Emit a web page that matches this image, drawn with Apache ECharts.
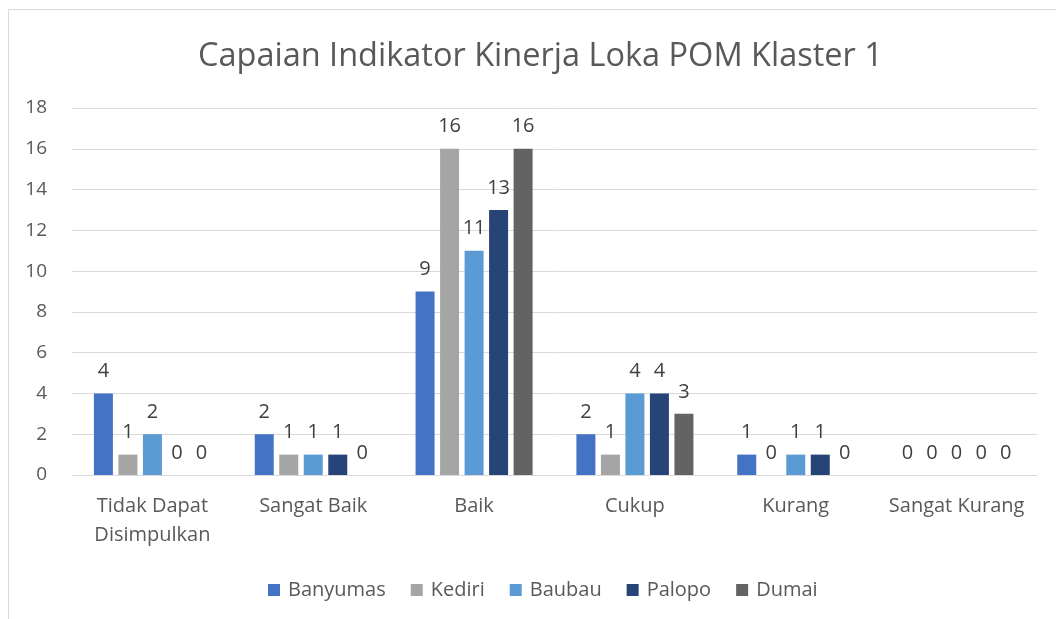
<!DOCTYPE html>
<html>
<head>
<meta charset="utf-8">
<script src="https://cdn.jsdelivr.net/npm/echarts@6/dist/echarts.min.js"></script>
<style>
html,body{margin:0;padding:0;background:#fff;}
#frame{position:absolute;left:8px;top:9px;width:1100px;height:700px;border:1px solid #D9D9D9;box-sizing:border-box;}
#main{position:absolute;left:0;top:0;width:1056px;height:619px;}
</style>
</head>
<body>
<div id="frame"></div>
<div id="main"></div>
<script>
const categories = ['Tidak Dapat\nDisimpulkan', 'Sangat Baik', 'Baik', 'Cukup', 'Kurang', 'Sangat Kurang'];
const seriesNames = ['Banyumas', 'Kediri', 'Baubau', 'Palopo', 'Dumai'];
const banyumas = [4, 2, 9, 2, 1, 0];
const kediri = [1, 1, 16, 1, 0, 0];
const baubau = [2, 1, 11, 4, 1, 0];
const palopo = [0, 1, 13, 4, 1, 0];
const dumai = [0, 0, 16, 3, 0, 0];
const yTicks = [0, 18, 2];

const font = '"Open Sans", "Noto Sans", sans-serif';
const textColor = '#595959';
const seriesData = [banyumas, kediri, baubau, palopo, dumai];

let chart = echarts.init(document.getElementById('main'));
chart.setOption({
    color:['#4472C4','#A5A5A5','#5B9BD5','#264478','#636363'],
    textStyle:{fontFamily:font},
    title:{
        text:'Capaian Indikator Kinerja Loka POM Klaster 1',
        left:193,
        top:35,
        textStyle:{
            color:textColor,
            fontSize:32.5,
            fontWeight:'normal',
            fontFamily:font
        }
    },
    legend:{
        bottom:14,
        left:263,
        itemWidth:12,
        itemHeight:12,
        itemGap:25,
        icon:'rect',
        textStyle:{color:textColor,fontSize:20,fontFamily:font,padding:[0,0,0,3]},
        data:seriesNames
    },
    grid:{
        left:72,
        right:19,
        top:108,
        bottom:144,
        containLabel:false
    },
    xAxis:{
        type:'category',
        data:categories,
        axisLine:{show:true,lineStyle:{color:'#D9D9D9',width:1}},
        axisTick:{show:false},
        axisLabel:{
            color:textColor,
            fontSize:20,
            margin:17,
            lineHeight:29,
            interval:0,
            fontFamily:font
        }
    },
    yAxis:{
        type:'value',
        min:yTicks[0],
        max:yTicks[1],
        interval:yTicks[2],
        axisLine:{show:false},
        axisTick:{show:false},
        splitLine:{show:true,lineStyle:{color:'#D9D9D9',width:1}},
        axisLabel:{
            color:textColor,
            fontSize:19,
            margin:25,
            fontFamily:font
        }
    },
    series:seriesNames.map(function(name,i){
        return {
            name:name,
            type:'bar',
            data:seriesData[i],
            barWidth:19,
            barGap:'29%',
            label:{
                show:true,
                position:'top',
                distance:12,
                color:'#404040',
                fontSize:20,
                fontFamily:font
            }
        };
    })
});
window.addEventListener("resize",function(){
    chart.resize();
});
</script>
</body>
</html>
